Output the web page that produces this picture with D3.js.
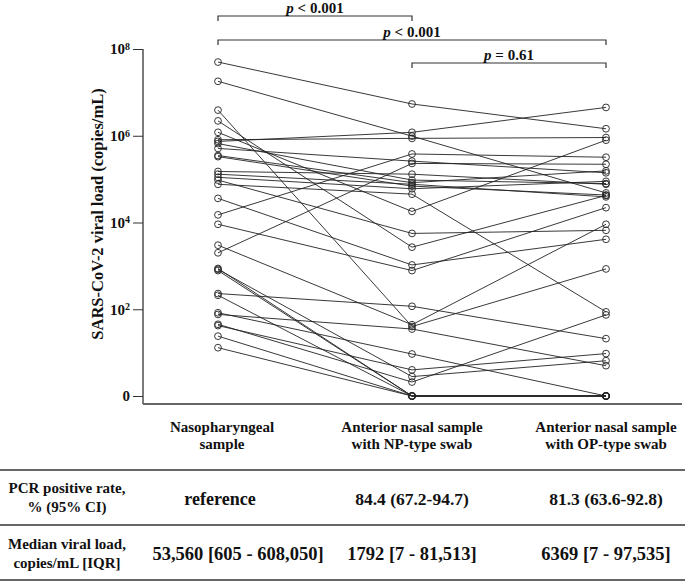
<!DOCTYPE html>
<html><head><meta charset="utf-8">
<script src="https://cdn.jsdelivr.net/npm/d3@7"></script>
<style>
body{margin:0;background:#fff}
svg text{font-family:"Liberation Serif","Times New Roman","DejaVu Serif",serif;font-weight:700;fill:#111}
</style>
</head><body>
<svg id="chart" width="685" height="584" font-family="Liberation Serif, Times New Roman, serif"></svg>
<script>
// ---- data (copies/mL; 0 = undetected, drawn on the "0" line) ----
const groupLines = [
  ["Nasopharyngeal", "sample"],
  ["Anterior nasal sample", "with NP-type swab"],
  ["Anterior nasal sample", "with OP-type swab"]
];
const npSample = [5.0e7, 1.8e7, 3.9e6, 2.2e6, 1.2e6, 8.1e5, 7.4e5, 6.6e5, 5.1e5, 3.5e5, 3.3e5, 1.5e5, 1.3e5, 1.1e5, 9.5e4, 7.6e4,
                  3.6e4, 1.5e4, 9100, 3000, 2000, 870, 830, 780, 230, 210, 83, 76, 45, 42, 24, 13];
const anNpSwab = [5.4e6, 9.8e5, 40, 2700, 1.8e4, 8.7e5, 1.2e6, 9.5e4, 2.6e5, 8.3e4, 6.9e4, 1.3e5, 7.6e4, 6.0e4, 5600, 4.5e4,
                  1050, 3.8e5, 780, 44, 2.3e5, 0, 2.8, 0, 117, 0, 9.3, 35, 2.1, 4.0, 0, 0];
const anOpSwab = [1.45e6, 4.8e4, 850, 4.2e4, 7.9e5, 9.1e5, 4.5e6, 7.9e4, 1.4e5, 1.55e5, 4.3e4, 7.6e4, 3.9e4, 8.9e4, 6600, 87,
                  4100, 3.2e5, 2.2e4, 9100, 2.2e5, 0, 6.5, 0, 21, 0, 0, 5.0, 74, 9.5, 0, 0];
const yTickValues = [0, 1e2, 1e4, 1e6, 1e8];
const yTickExponents = ["", "2", "4", "6", "8"];
const comparisons = [
  {a: 0, b: 1, op: " < 0.001"},
  {a: 0, b: 2, op: " < 0.001"},
  {a: 1, b: 2, op: " = 0.61"}
];
const rowLabels = [["PCR positive rate,", "% (95% CI)"], ["Median viral load,", "copies/mL [IQR]"]];
const positiveRate = ["reference", "84.4 (67.2-94.7)", "81.3 (63.6-92.8)"];
const medianLoad = ["53,560 [605 - 608,050]", "1792 [7 - 81,513]", "6369 [7 - 97,535]"];

const FONT = "Liberation Serif, Times New Roman, serif";
const svg = d3.select("#chart");
const x = d3.scalePoint().domain([0, 1, 2]).range([218, 606]);
const y = d3.scaleLog().domain([1, 1e8]).range([396, 49]);
const yv = v => y(Math.max(v, 1));
const txt = (sel) => sel.attr("font-family", FONT).attr("font-weight", "bold");

// y axis
const axis = d3.axisLeft(y).tickValues(yTickValues.map(v => Math.max(v, 1)))
  .tickSize(10).tickSizeOuter(0).tickFormat(() => "");
const gA = svg.append("g").attr("transform", "translate(143,0)").call(axis);
gA.attr("font-family", FONT);
gA.select(".domain").remove();
gA.selectAll(".tick line").attr("stroke", "#333");
gA.selectAll(".tick").each(function(d, i) {
  const t = d3.select(this).append("text").attr("x", -13).attr("dy", "0.32em")
    .attr("text-anchor", "end").style("font-size", "15px").call(txt);
  if (yTickValues[i] === 0) { t.text("0"); }
  else {
    t.append("tspan").text("10");
    t.append("tspan").attr("dy", "-0.45em").style("font-size", "10px").text(yTickExponents[i]);
  }
});
svg.append("line").attr("x1", 143).attr("x2", 143).attr("y1", y(1e8)).attr("y2", 404)
  .attr("stroke", "#333").attr("stroke-width", 1.3);
svg.append("line").attr("x1", 143).attr("x2", 682).attr("y1", 404).attr("y2", 404)
  .attr("stroke", "#666").attr("stroke-width", 2);

svg.append("text").attr("transform", "translate(103,214) rotate(-90)")
  .attr("text-anchor", "middle").style("font-size", "16.5px").call(txt)
  .text("SARS-CoV-2 viral load (copies/mL)");

// paired lines
const subjects = npSample.map((v, i) => [v, anNpSwab[i], anOpSwab[i]]);
const line = d3.line().x((d, j) => x(j)).y(d => yv(d));
svg.append("g").selectAll("path").data(subjects).join("path")
  .attr("d", line).attr("fill", "none").attr("stroke", "#222").attr("stroke-width", 0.9);
svg.append("g").selectAll("g").data(subjects).join("g")
  .selectAll("circle").data(d => d).join("circle")
  .attr("cx", (d, j) => x(j)).attr("cy", d => yv(d)).attr("r", 3.4)
  .attr("fill", "none").attr("stroke", "#222").attr("stroke-width", 0.9);

// significance brackets
const bracketY = [16, 40, 63];
comparisons.forEach((c, k) => {
  const yb = bracketY[k];
  svg.append("path")
    .attr("d", `M${x(c.a)},${yb + 5}V${yb}H${x(c.b)}V${yb + 5}`)
    .attr("fill", "none").attr("stroke", "#333").attr("stroke-width", 1.2);
  const t = svg.append("text").attr("x", (x(c.a) + x(c.b)) / 2).attr("y", yb - 3)
    .attr("text-anchor", "middle").style("font-size", "15px").call(txt);
  t.append("tspan").style("font-style", "italic").text("p");
  t.append("tspan").text(c.op);
});

// table
const headerX = [222, x(1), x(2)];
groupLines.forEach((g, i) => {
  g.forEach((s, k) => svg.append("text").attr("x", headerX[i]).attr("y", 432 + k * 17)
    .attr("text-anchor", "middle").style("font-size", "15px").call(txt).text(s));
});
[470, 525, 580].forEach(yy => svg.append("line").attr("x1", 0).attr("x2", 685)
  .attr("y1", yy).attr("y2", yy).attr("stroke", "#666").attr("stroke-width", 2));
rowLabels.forEach((r, k) => {
  r.forEach((s, j) => svg.append("text").attr("x", 67).attr("y", 493 + k * 56 + j * 19)
    .attr("text-anchor", "middle").style("font-size", "15px").call(txt).text(s));
});
positiveRate.forEach((s, i) => svg.append("text").attr("x", i === 0 ? 220 : x(i)).attr("y", 505)
  .attr("text-anchor", "middle").style("font-size", i === 0 ? "18px" : "17.5px").call(txt).text(s));
medianLoad.forEach((s, i) => svg.append("text").attr("x", i === 0 ? 238 : x(i)).attr("y", 560)
  .attr("text-anchor", "middle").style("font-size", "18.5px").call(txt).text(s));
</script>
</body></html>
